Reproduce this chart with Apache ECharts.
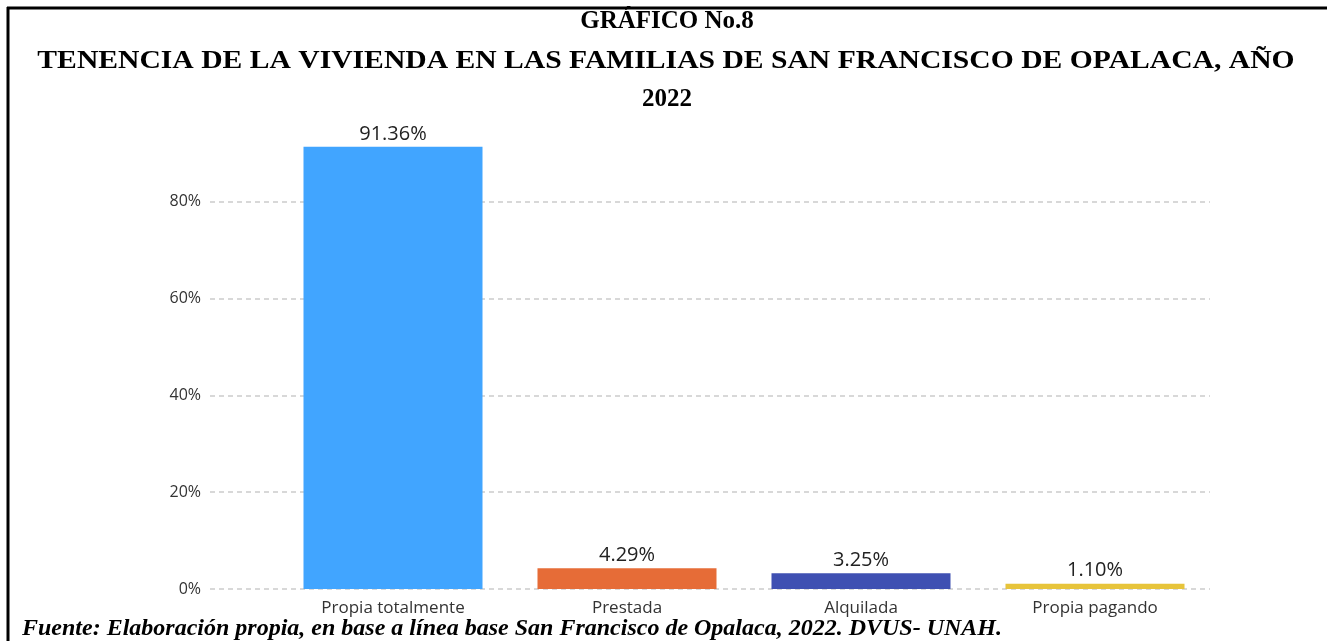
<!DOCTYPE html>
<html>
<head>
<meta charset="utf-8">
<script src="https://cdn.jsdelivr.net/npm/echarts@6/dist/echarts.min.js"></script>
<style>
    html, body { margin: 0; padding: 0; background: #fff; }
    #chart { width: 1327px; height: 641px; }
</style>
</head>
<body>
<div id="chart"></div>
<script>
var categories = ['Propia totalmente', 'Prestada', 'Alquilada', 'Propia pagando'];
var values = [91.36, 4.29, 3.25, 1.10];
var barColors = ['#41A5FF', '#E66C37', '#3F50B2', '#E7C43B'];
var yTicks = [0, 20, 40, 60, 80, 100];
var titleLines = [
    'GRÁFICO No.8',
    'TENENCIA DE LA VIVIENDA EN LAS FAMILIAS DE SAN FRANCISCO DE OPALACA, AÑO',
    '2022'
];

var titleFont = 'bold 25px "Liberation Serif"';

var myChart = echarts.init(document.getElementById('chart'));
var option = {
    backgroundColor: '#fff',
    animation: false,
    grid: [
        // grid lines and y labels
        { left: 210, right: 117, top: 105, bottom: 52 },
        // bars
        { left: 276, right: 115, top: 105, bottom: 52 }
    ],
    xAxis: [
        { type: 'value', gridIndex: 0, min: 0, max: 1, show: false },
        {
            type: 'category',
            gridIndex: 1,
            data: categories,
            axisLine: { show: false },
            axisTick: { show: false },
            axisLabel: {
                margin: 11,
                fontFamily: 'Open Sans',
                fontSize: 17,
                color: '#333'
            }
        }
    ],
    yAxis: [
        {
            type: 'value',
            gridIndex: 0,
            min: yTicks[0],
            max: yTicks[yTicks.length - 1],
            interval: 20,
            axisLine: { show: false },
            axisTick: { show: false },
            axisLabel: {
                margin: 9,
                showMaxLabel: false,
                fontFamily: 'Open Sans',
                fontSize: 16,
                color: '#333',
                formatter: '{value}%'
            },
            splitLine: {
                showMaxLine: false,
                lineStyle: { color: '#cccccc', type: [5, 4], width: 1.5 }
            }
        },
        { type: 'value', gridIndex: 1, min: 0, max: 100, show: false }
    ],
    series: [
        {
            type: 'bar',
            xAxisIndex: 1,
            yAxisIndex: 1,
            barCategoryGap: '23.5%',
            data: values.map(function (v, i) {
                return { value: v, itemStyle: { color: barColors[i] } };
            }),
            label: {
                show: true,
                position: 'top',
                distance: 3,
                fontFamily: 'Open Sans',
                fontSize: 20,
                color: '#222',
                formatter: function (p) { return p.value.toFixed(2) + '%'; }
            }
        }
    ],
    graphic: [
        { type: 'line', shape: { x1: 7, y1: 8, x2: 1327, y2: 8 }, style: { stroke: '#000', lineWidth: 3 } },
        { type: 'line', shape: { x1: 8, y1: 7, x2: 8, y2: 641 }, style: { stroke: '#000', lineWidth: 3 } },
        {
            type: 'text', x: 667, y: 22,
            style: { text: titleLines[0], font: titleFont, align: 'center', verticalAlign: 'middle', fill: '#000' }
        },
        {
            // second title line is stretched wider in the original
            type: 'text', x: 666, y: 62, scaleX: 1.185,
            style: { text: titleLines[1], font: titleFont, align: 'center', verticalAlign: 'middle', fill: '#000' }
        },
        {
            type: 'text', x: 667, y: 100,
            style: { text: titleLines[2], font: titleFont, align: 'center', verticalAlign: 'middle', fill: '#000' }
        },
        {
            type: 'text',
            x: 22,
            y: 617,
            style: {
                text: 'Fuente: Elaboración propia, en base a línea base San Francisco de Opalaca, 2022. DVUS- UNAH.',
                font: 'italic bold 24px "Liberation Serif"',
                fill: '#000'
            }
        }
    ]
};

myChart.setOption(option);
</script>
</body>
</html>
